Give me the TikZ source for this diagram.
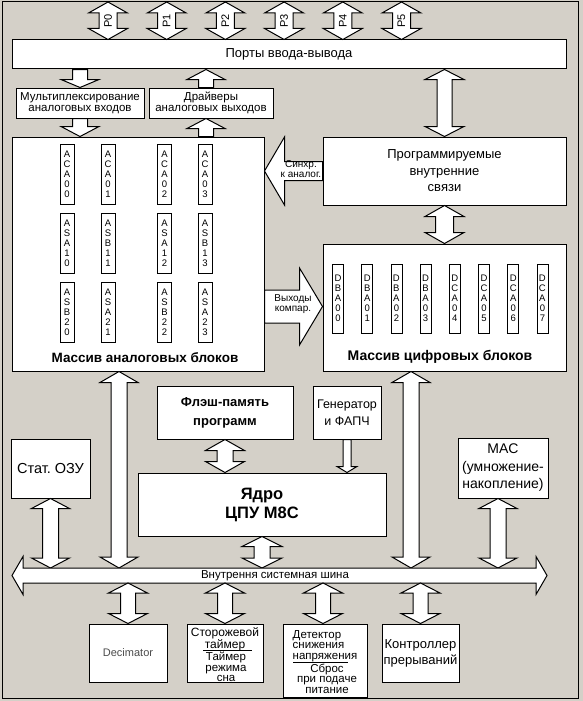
\documentclass[tikz,border=0pt]{standalone}
\usepackage{fontspec}
\setmainfont{Liberation Sans}
\usepackage{tikz}
\usetikzlibrary{
  calc}

\definecolor{panel}{RGB}{212,208,200}
\frenchspacing

\tikzset{
  sgl/.style n args={3}{to path={let \p1=(\tikztostart), \p2=(\tikztotarget),
      \p3=($(\tikztotarget)!#3!(\tikztostart)$) in
      ($(\p1)!#1!90:(\p2)$) -- ($(\p3)!#1!90:(\p2)$) -- ($(\p3)!#2!90:(\p2)$)
      -- (\p2) -- ($(\p3)!#2!-90:(\p2)$) -- ($(\p3)!#1!-90:(\p2)$)
      -- ($(\p1)!#1!-90:(\p2)$) -- cycle}},
  dbl/.style n args={3}{to path={let \p1=(\tikztostart), \p2=(\tikztotarget),
      \p3=($(\tikztotarget)!#3!(\tikztostart)$),
      \p4=($(\tikztostart)!#3!(\tikztotarget)$) in
      (\p1) -- ($(\p4)!#2!90:(\p2)$) -- ($(\p4)!#1!90:(\p2)$)
      -- ($(\p3)!#1!90:(\p2)$) -- ($(\p3)!#2!90:(\p2)$) -- (\p2)
      -- ($(\p3)!#2!-90:(\p2)$) -- ($(\p3)!#1!-90:(\p2)$)
      -- ($(\p4)!#1!-90:(\p2)$) -- ($(\p4)!#2!-90:(\p2)$) -- cycle}}
}

\begin{document}
\begin{tikzpicture}[x=1pt, y=-1pt,
  blk/.style={draw, fill=white, line width=1pt, inner sep=0pt, align=center},
  col/.style={draw, fill=white, line width=.8pt, inner sep=0pt, align=center,
    minimum width=14, minimum height=60, font=\fontsize{9.5}{10}\selectfont},
  dcol/.style={col, minimum width=11, minimum height=69},
  arr/.style={draw, fill=white, line width=1pt},
  lbl/.style={inner sep=0pt, align=center}]

\useasboundingbox (0,0) rectangle (583,701);
\fill[panel] (0,0) rectangle (583,701);
\draw[line width=1pt] (2,1.5) rectangle (578.5,698.5);

% ports
\node[blk, minimum width=554, minimum height=29, font=\fontsize{13}{15}\selectfont] (ports) at (289,54.5) {Порты ввода-вывода};
\coordinate (pt0) at (108,2);
\coordinate (pt1) at (166.7,2);
\coordinate (pt2) at (225.4,2);
\coordinate (pt3) at (284.1,2);
\coordinate (pt4) at (342.8,2);
\coordinate (pt5) at (401.5,2);
\draw[arr, dbl={9pt}{19.5pt}{11pt}] (pt0) to (ports.north -| pt0);
\draw[arr, dbl={9pt}{19.5pt}{11pt}] (pt1) to (ports.north -| pt1);
\draw[arr, dbl={9pt}{19.5pt}{11pt}] (pt2) to (ports.north -| pt2);
\draw[arr, dbl={9pt}{19.5pt}{11pt}] (pt3) to (ports.north -| pt3);
\draw[arr, dbl={9pt}{19.5pt}{11pt}] (pt4) to (ports.north -| pt4);
\draw[arr, dbl={9pt}{19.5pt}{11pt}] (pt5) to (ports.north -| pt5);
\node[lbl, rotate=90, font=\fontsize{11}{11}\selectfont] (p0) at (108,21) {P0};
\node[lbl, rotate=90, font=\fontsize{11}{11}\selectfont] (p1) at (166.7,21) {P1};
\node[lbl, rotate=90, font=\fontsize{11}{11}\selectfont] (p2) at (225.4,21) {P2};
\node[lbl, rotate=90, font=\fontsize{11}{11}\selectfont] (p3) at (284.1,21) {P3};
\node[lbl, rotate=90, font=\fontsize{11}{11}\selectfont] (p4) at (342.8,21) {P4};
\node[lbl, rotate=90, font=\fontsize{11}{11}\selectfont] (p5) at (401.5,21) {P5};

% analog side
\node[blk, minimum width=128, minimum height=30, font=\fontsize{11.5}{11}\selectfont] (mux) at (80,103) {Мультиплексирование\\аналоговых входов};
\node[blk, minimum width=124, minimum height=30, font=\fontsize{11.5}{11}\selectfont] (drv) at (211,103) {Драйверы\\аналоговых выходов};
\node[blk, minimum width=252, minimum height=234] (analog) at (138,254) {};
\node[lbl, font=\fontsize{13.5}{15}\selectfont\bfseries] (atitle) at (145,358) {Массив аналоговых блоков};

\node[col] (aca00) at (67,174) {A\\C\\A\\0\\0};
\node[col] (aca01) at (108,174) {A\\C\\A\\0\\1};
\node[col] (aca02) at (164.5,174) {A\\C\\A\\0\\2};
\node[col] (aca03) at (205,174) {A\\C\\A\\0\\3};
\node[col] (asa10) at (67,243.5) {A\\S\\A\\1\\0};
\node[col] (asb11) at (108,243.5) {A\\S\\B\\1\\1};
\node[col] (asa12) at (164.5,243.5) {A\\S\\A\\1\\2};
\node[col] (asb13) at (205,243.5) {A\\S\\B\\1\\3};
\node[col] (asb20) at (67,312.5) {A\\S\\B\\2\\0};
\node[col] (asa21) at (108,312.5) {A\\S\\A\\2\\1};
\node[col] (asb22) at (164.5,312.5) {A\\S\\B\\2\\2};
\node[col] (asa23) at (205,312.5) {A\\S\\A\\2\\3};

% digital side
\node[blk, minimum width=243, minimum height=68, font=\fontsize{13}{16.5}\selectfont] (prog) at (444.5,171) {Программируемые\\внутренние\\связи};
\node[blk, minimum width=243, minimum height=127] (digital) at (444.5,307.5) {};
\node[lbl, font=\fontsize{14}{15}\selectfont\bfseries] (dtitle) at (440,357) {Массив цифровых блоков};

\node[dcol] (dba00) at (338,298.5) {D\\B\\A\\0\\0};
\node[dcol] (dba01) at (367.2,298.5) {D\\B\\A\\0\\1};
\node[dcol] (dba02) at (396.4,298.5) {D\\B\\A\\0\\2};
\node[dcol] (dba03) at (425.6,298.5) {D\\B\\A\\0\\3};
\node[dcol] (dca04) at (454.8,298.5) {D\\C\\A\\0\\4};
\node[dcol] (dca05) at (484,298.5) {D\\C\\A\\0\\5};
\node[dcol] (dca06) at (513.2,298.5) {D\\C\\A\\0\\6};
\node[dcol] (dca07) at (542.4,298.5) {D\\C\\A\\0\\7};

% core and memories
\node[blk, minimum width=136, minimum height=53, font=\fontsize{13}{19}\selectfont\bfseries] (flash) at (225,412.5) {Флэш-память\\программ};
\node[blk, minimum width=68, minimum height=53, font=\fontsize{12.5}{17}\selectfont] (gen) at (347,412.5) {Генератор\\и ФАПЧ};
\node[blk, minimum width=79, minimum height=59, font=\fontsize{14.5}{16}\selectfont] (ram) at (50.5,468.5) {Стат. ОЗУ};
\node[blk, minimum width=90, minimum height=60, font=\fontsize{14}{17.5}\selectfont] (mac) at (503,468) {MAC\\(умножение-\\накопление)};
\node[blk, minimum width=248, minimum height=63, font=\fontsize{16.5}{19}\selectfont\bfseries] (cpu) at (262,504.5) {Ядро\\ЦПУ M8C};

% peripherals
\node[blk, minimum width=78, minimum height=58, font=\fontsize{11}{12}\selectfont, text=black!70] (dec) at (128,653) {Decimator};
\node[blk, minimum width=76, minimum height=58] (wd) at (225,653) {};
\node[lbl, font=\fontsize{12}{11}\selectfont] (wd1) at (225,639.5) {Сторожевой\\таймер};
\node[lbl, font=\fontsize{11.5}{10.5}\selectfont] (wd2) at (226,667) {Таймер\\режима\\сна};
\draw[line width=.8pt] ($(wd.center)+(-22,-3)$) -- ($(wd.center)+(27,-3)$);
\node[blk, minimum width=84, minimum height=73] (det) at (325,660.5) {};
\node[lbl, align=left, font=\fontsize{11.5}{10.5}\selectfont] (det1) at (325,646) {Детектор\\снижения\\напряжения};
\node[lbl, font=\fontsize{11.5}{10.5}\selectfont] (det2) at (327,678.5) {Сброс\\при подаче\\питание};
\draw[line width=.8pt] ($(det.center)+(-32,1.5)$) -- ($(det.center)+(23,1.5)$);
\node[blk, minimum width=77, minimum height=58, font=\fontsize{13}{16}\selectfont] (irq) at (420.5,653) {Контроллер\\прерываний};

% bus
\coordinate (busl) at (12,575.5);
\coordinate (busr) at (547,575.5);
\coordinate (bust) at (0,568);
\coordinate (busb) at (0,583);

% block arrows
\draw[arr, sgl={7.5pt}{19pt}{8pt}] (mux.north |- ports.south) to (mux.north);
\draw[arr, sgl={7.5pt}{19pt}{10pt}] (mux.south) to (mux.south |- analog.north);
\draw[arr, sgl={7.5pt}{19pt}{10pt}] (analog.north -| 206,0) to (drv.south -| 206,0);
\draw[arr, sgl={7.5pt}{19pt}{10pt}] (drv.north -| 206,0) to (ports.south -| 206,0);
\draw[arr, dbl={7.5pt}{19.5pt}{10pt}] (ports.south -| prog.north) to (prog.north);
\draw[arr, sgl={9.5pt}{34pt}{20pt}] (prog.west) to (prog.west -| analog.east);
\draw[arr, dbl={9pt}{19.5pt}{11pt}] (prog.south) to (digital.north);
\draw[arr, sgl={16.5pt}{38.5pt}{23pt}] (analog.east |- 0,306.5) to (digital.west |- 0,306.5);
\node[lbl, font=\fontsize{10}{9.5}\selectfont] (sync) at (301,169) {Синхр.\\к аналог.};
\node[lbl, font=\fontsize{10}{9.5}\selectfont] (comp) at (293,304) {Выходы\\компар.};

\draw[arr, dbl={8pt}{19pt}{11pt}] (analog.south -| 119,0) to (bust -| 119,0);
\draw[arr, dbl={8pt}{19pt}{11pt}] (digital.south -| 411,0) to (bust -| 411,0);
\draw[arr, dbl={8pt}{19pt}{10pt}] (ram.south) to (ram.south |- bust);
\draw[arr, dbl={8pt}{19pt}{10pt}] (mac.south -| 498,0) to (bust -| 498,0);
\draw[arr, dbl={8pt}{19.5pt}{11pt}] (flash.south) to (flash.south |- cpu.north);
\draw[arr, sgl={4pt}{10pt}{6pt}] (gen.south) to (gen.south |- cpu.north);
\draw[arr, dbl={8pt}{20pt}{10pt}] (cpu.south) to (cpu.south |- bust);

\draw[arr, dbl={7.5pt}{19pt}{11pt}] (busl) to (busr);
\node[lbl, font=\fontsize{11.5}{12}\selectfont] (bustext) at (275,575.5) {Внутрення системная шина};

\draw[arr, dbl={7.5pt}{19.5pt}{10pt}] (busb -| dec.north) to (dec.north);
\draw[arr, dbl={7.5pt}{19.5pt}{10pt}] (busb -| wd.north) to (wd.north);
\draw[arr, dbl={7.5pt}{19.5pt}{10pt}] (busb -| 323,0) to (det.north -| 323,0);
\draw[arr, dbl={7.5pt}{19.5pt}{10pt}] (busb -| irq.north) to (irq.north);
\end{tikzpicture}
\end{document}
